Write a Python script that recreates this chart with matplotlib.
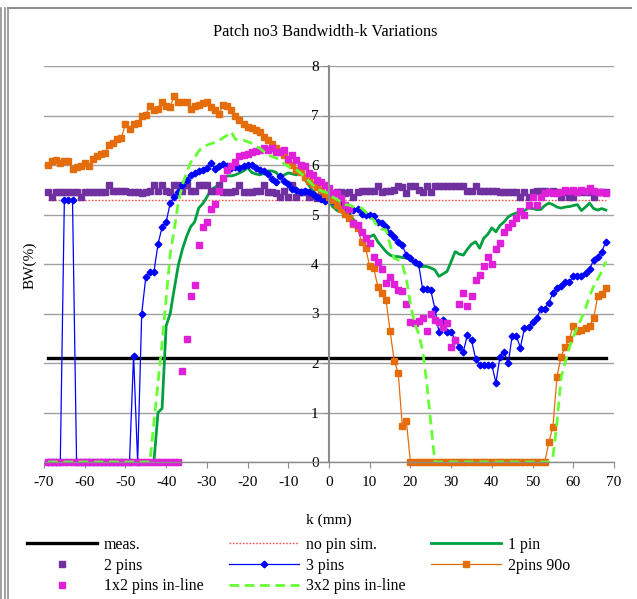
import numpy as np
from matplotlib import pyplot as plt
from matplotlib.lines import Line2D

# k positions (mm), one sample per mm
k = np.arange(-69, 69)

meas_bw = 2.1
no_pin_bw = 5.3

one_pin = [0.0] * 26 + [
    0.0, 1.0, 1.08, 2.75, 3.0, 3.5, 3.98, 4.3, 4.55, 4.75,
    4.85, 5.13, 5.22, 5.35, 5.5, 5.55, 5.6, 5.72, 5.78, 5.78,
    5.8, 5.84, 5.88, 5.95, 5.85, 5.82, 5.8, 5.83, 5.88, 5.88,
    5.85, 5.76, 5.8, 5.84, 5.82, 5.8, 5.87, 5.72, 5.6, 5.48,
    5.4, 5.35, 5.3, 5.26, 5.15, 5.08, 5.05, 5.03, 5.03, 4.9,
    4.8, 4.69, 4.5, 4.55, 4.59, 4.45, 4.35, 4.25, 4.18, 4.15,
    4.15, 4.13, 4.12, 4.1, 4.0, 3.95, 3.95, 3.95, 3.92, 3.88,
    3.75, 3.8, 3.85, 4.05, 4.25, 4.2, 4.18, 4.3, 4.4, 4.45,
    4.32, 4.52, 4.6, 4.73, 4.65, 4.78, 4.85, 4.95, 5.0, 5.03,
    5.05, 5.08, 5.13, 5.12, 5.1, 5.1, 5.18, 5.23, 5.2, 5.15,
    5.13, 5.15, 5.16, 5.18, 5.2, 5.08, 5.15, 5.23, 5.12, 5.09,
    5.12, 5.09]

two_pins = [
    5.46, 5.36, 5.45, 5.45, 5.45, 5.45, 5.45, 5.45, 5.36, 5.45,
    5.46, 5.46, 5.46, 5.46, 5.46, 5.6, 5.47, 5.47, 5.47, 5.47,
    5.46, 5.46, 5.45, 5.44, 5.46, 5.48, 5.6, 5.47, 5.6, 5.47,
    5.45, 5.6, 5.6, 5.47, 5.6, 5.47, 5.47, 5.6, 5.6, 5.6,
    5.47, 5.47, 5.6, 5.45, 5.45, 5.45, 5.47, 5.6, 5.46, 5.46,
    5.46, 5.47, 5.47, 5.6, 5.46, 5.45, 5.44, 5.36, 5.47, 5.36,
    5.6, 5.36, 5.46, 5.45, 5.36, 5.37, 5.34, 5.35, 5.34, 5.37,
    5.36, 5.46, 5.45, 5.44, 5.45, 5.36, 5.46, 5.47, 5.47, 5.47,
    5.47, 5.58, 5.46, 5.47, 5.47, 5.49, 5.58, 5.56, 5.44, 5.58,
    5.58, 5.5, 5.45, 5.57, 5.45, 5.57, 5.58, 5.58, 5.58, 5.58,
    5.58, 5.58, 5.58, 5.48, 5.48, 5.58, 5.47, 5.47, 5.47, 5.47,
    5.47, 5.46, 5.46, 5.46, 5.45, 5.45, 5.36, 5.45, 5.36, 5.46,
    5.47, 5.47, 5.47, 5.45, 5.47, 5.45, 5.36, 5.46, 5.36, 5.36,
    5.45, 5.45, 5.45, 5.46, 5.36, 5.45, 5.45, 5.45]

three_pins = [0.0] * 4 + [5.3, 5.3, 5.3] + [0.0] * 14 + [2.15, 0.0] + [
    3.0, 3.73, 3.84, 3.84, 4.4, 4.75, 4.85, 5.23, 5.36, 5.46,
    5.6, 5.7, 5.8, 5.84, 5.88, 5.9, 5.93, 6.05, 5.92, 5.97,
    6.03, 5.97, 5.93, 5.95, 5.93, 5.97, 5.99, 6.0, 5.93, 5.9,
    5.88, 5.82, 5.72, 5.66, 5.78, 5.68, 5.62, 5.52, 5.5, 5.46,
    5.48, 5.45, 5.42, 5.36, 5.32, 5.28, 5.33, 5.27, 5.24, 5.19,
    5.14, 5.09, 5.1, 5.12, 5.02, 5.0, 4.99, 4.96, 4.84, 4.82,
    4.75, 4.62, 4.55, 4.45, 4.38, 4.18, 4.12, 4.05, 4.0, 3.49,
    3.49, 3.47, 3.1, 2.63, 2.87, 2.63, 2.63, 2.46, 2.33, 2.23,
    2.57, 2.46, 2.09, 1.96, 1.96, 1.96, 1.96, 1.6, 2.13, 2.23,
    1.99, 2.55, 2.55, 2.31, 2.7, 2.73, 2.83, 2.9, 3.1, 3.1,
    3.22, 3.42, 3.51, 3.55, 3.64, 3.63, 3.76, 3.75, 3.75, 3.81,
    3.9, 4.08, 4.14, 4.25, 4.45]

two_pins_90 = [
    6.0, 6.08, 6.1, 6.05, 6.08, 6.08, 5.92, 5.96, 5.98, 6.05,
    5.98, 6.12, 6.18, 6.22, 6.25, 6.4, 6.44, 6.52, 6.55, 6.82,
    6.72, 6.82, 6.84, 7.0, 7.02, 7.2, 7.12, 7.13, 7.28, 7.2,
    7.18, 7.4, 7.27, 7.27, 7.27, 7.13, 7.2, 7.22, 7.25, 7.28,
    7.17, 7.12, 7.04, 7.21, 7.2, 7.11, 7.0, 6.9, 6.82, 6.77,
    6.74, 6.7, 6.66, 6.57, 6.5, 6.42, 6.35, 6.28, 6.2, 6.1,
    6.0, 5.9, 5.85, 5.75, 5.68, 5.62, 5.55, 5.5, 5.42, 5.36,
    5.3, 5.19, 5.12, 5.02, 4.92, 4.8, 4.72, 4.45, 4.32, 3.95,
    3.91, 3.54, 3.41, 3.27, 2.65, 2.05, 1.8, 0.73, 0.83] + [0.0] * 34 + [
    0.4, 0.71, 1.72, 2.13, 2.33, 2.48, 2.75, 2.65, 2.66, 2.7,
    2.75, 2.9, 3.35, 3.39, 3.51]

inline_1x2 = [0.0] * 33 + [
    1.84, 2.48, 3.36, 3.58, 4.38, 4.75, 4.85, 5.12, 5.22, 5.48,
    5.74, 5.9, 5.98, 6.07, 6.19, 6.2, 6.23, 6.26, 6.28, 6.3,
    6.34, 6.3, 6.34, 6.27, 6.27, 6.3, 6.13, 6.2, 6.1, 6.0,
    5.97, 5.83, 5.8, 5.7, 5.66, 5.6, 5.53, 5.43, 5.43, 5.33,
    5.2, 5.12, 4.82, 4.79, 4.65, 4.52, 4.42, 4.15, 4.04, 3.9,
    3.62, 3.73, 3.6, 3.47, 3.46, 3.2, 2.83, 2.81, 2.85, 2.9,
    2.65, 3.0, 2.87, 2.82, 2.72, 2.81, 2.32, 2.46, 3.19, 3.42,
    3.15, 3.35, 3.67, 3.78, 3.95, 4.15, 4.0, 4.3, 4.43, 4.65,
    4.75, 4.82, 4.92, 5.08, 4.99, 5.19, 5.35, 5.19, 5.36, 5.43,
    5.46, 5.43, 5.43, 5.46, 5.49, 5.48, 5.49, 5.46, 5.49, 5.48,
    5.53, 5.48, 5.46, 5.46, 5.43]

inline_3x2 = [0.0] * 26 + [
    0.8, 1.6, 2.4, 3.3, 4.2, 4.7, 5.25, 5.6, 5.84, 6.05,
    6.15, 6.28, 6.37, 6.4, 6.43, 6.46, 6.5, 6.55, 6.6, 6.67,
    6.52, 6.5, 6.5, 6.47, 6.44, 6.38, 6.34, 6.27, 6.2, 6.17,
    6.14, 6.1, 6.02, 5.97, 5.93, 5.9, 5.84, 5.76, 5.68, 5.6,
    5.52, 5.48, 5.45, 5.43, 5.35, 5.3, 5.25, 5.2, 5.19, 5.16,
    5.15, 5.13, 5.05, 4.95, 4.88, 4.75, 4.7, 4.69, 4.4, 4.12,
    4.08, 4.0, 3.7, 3.2, 2.8, 2.6, 2.25, 1.6, 0.8, 0.0] + [0.0] * 28 + [
    0.1, 0.8, 1.7, 2.0, 2.3, 2.53, 2.72, 2.9, 3.1, 3.35,
    3.55, 3.7, 3.85, 4.05]

plt.rcParams['font.family'] = ['Liberation Serif', 'DejaVu Serif']
plt.rcParams['axes.unicode_minus'] = False

fig = plt.figure(figsize=(6.37, 5.99), dpi=100)
ax = fig.add_axes([44 / 637, 1 - 462 / 599, 570 / 637, 396 / 599])

grey = '#8c8c8c'
ax.plot(k, np.full(len(k), meas_bw), color='black', lw=2.4, label='meas.')
ax.plot(k, np.full(len(k), no_pin_bw), color='#ff5050', lw=1.0,
        ls=(0, (1.2, 1.2)), label='no pin sim.')
ax.plot(k, one_pin, color='#00a040', lw=2.0, label='1 pin')
ax.plot(k, two_pins, ls='none', marker='s', ms=4.4, color='#7030a0',
        mec='#7030a0', label='2 pins', clip_on=False)
ax.plot(k, three_pins, color='#0000ff', lw=0.9, marker='D', ms=3.4,
        mec='#0000ff', label='3 pins', clip_on=False)
ax.plot(k, two_pins_90, color='#e46c0a', lw=0.9, marker='s', ms=4.8,
        mec='#e46c0a', label='2pins 90o', clip_on=False)
ax.plot(k, inline_1x2, ls='none', marker='s', ms=4.6, color='#e020d8',
        mec='#e020d8', label='1x2 pins in-line', clip_on=False)
ax.plot(k, inline_3x2, color='#66ff33', lw=2.0, ls=(0, (3.5, 2.0)),
        label='3x2 pins in-line')

ax.set_xlim(-70, 70)
ax.set_ylim(0, 8)
ax.set_xticks(np.arange(-70, 71, 10))
ax.set_yticks(np.arange(0, 9, 1))
ax.yaxis.grid(True, color='#a0a0a0', lw=1.0)
ax.set_axisbelow(True)

for s in ['top', 'right']:
    ax.spines[s].set_visible(False)
ax.spines['left'].set_position(('data', 0))
ax.spines['left'].set_color(grey)
ax.spines['bottom'].set_color(grey)
ax.spines['left'].set_linewidth(1.5)
ax.spines['bottom'].set_linewidth(1.0)
ax.tick_params(axis='both', colors=grey, labelcolor='black', length=4,
               labelsize=11)
ax.tick_params(axis='x', pad=6)

fig.text(325 / 637, 1 - 32 / 599, 'Patch no3 Bandwidth-k Variations',
         ha='center', va='center', fontsize=11.7)
fig.text(30 / 637, 1 - 265 / 599, 'BW(%)', rotation=90,
         ha='center', va='center', fontsize=11)
fig.text(329 / 637, 1 - 520 / 599, 'k (mm)', ha='center', va='center',
         fontsize=11)

# legend reads row by row: meas./no pin/1 pin, 2 pins/3 pins/2pins 90o, ...
h, l = ax.get_legend_handles_labels()
order = [0, 3, 6, 1, 4, 7, 2, 5]
fig.legend([h[i] for i in order], [l[i] for i in order], ncol=3,
           loc='upper left', bbox_to_anchor=(27 / 637, 1 - 537 / 599),
           frameon=False, handlelength=4.4, handletextpad=0.45,
           columnspacing=1.62, labelspacing=0.3, numpoints=1,
           fontsize=11.4, borderaxespad=0, borderpad=0)

# chart border
fig.add_artist(Line2D([8 / 637, 631 / 637], [1 - 8 / 599, 1 - 8 / 599],
                      transform=fig.transFigure, color='#909090', lw=1.5))
for xp in [1.5, 4.5, 8]:
    fig.add_artist(Line2D([xp / 637, xp / 637], [0, 1 - 8 / 599],
                          transform=fig.transFigure, color='#909090', lw=1.2))

fig.savefig('out.png', dpi=100)
